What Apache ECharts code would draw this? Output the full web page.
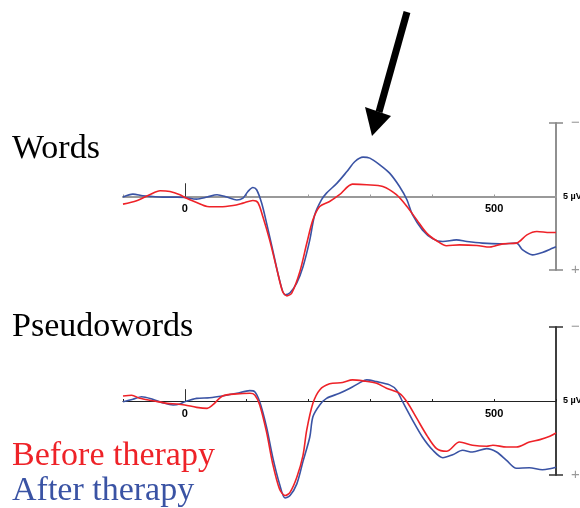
<!DOCTYPE html>
<html>
<head>
<meta charset="utf-8">
<script src="https://cdn.jsdelivr.net/npm/echarts@6/dist/echarts.min.js"></script>
<style>
  html, body { margin: 0; padding: 0; background: #fff; }
  #chart { width: 580px; height: 508px; }
</style>
</head>
<body>
<div id="chart"></div>
<script>
// ERP waveforms, [time ms, amplitude µV] (negative plotted up)
var wordsBefore = [
  [-100, 0.52], [-78, 0.29], [-57, -0.12], [-40, -0.39], [-24, -0.34], [-8, -0.12], [0, 0.07],
  [19, 0.41], [36, 0.68], [57, 0.70], [78, 0.61], [94, 0.45], [110, 0.27], [118, 0.41],
  [126, 1.36], [137, 2.95], [149, 4.99], [158, 6.46], [165, 6.76], [173, 6.55], [186, 5.1],
  [197, 3.2], [207, 1.59], [218, 0.68], [234, 0.34], [250, -0.12], [271, -0.84], [294, -0.80],
  [320, -0.68], [342, -0.12], [359, 0.68], [375, 1.59], [391, 2.49], [407, 3.01], [423, 3.35],
  [444, 3.29], [472, 3.33], [493, 3.44], [514, 3.22], [536, 3.17], [553, 2.61], [569, 2.38],
  [590, 2.45], [600, 2.45]
];
var wordsAfter = [
  [-100, 0.04], [-84, -0.16], [-68, -0.05], [-52, 0], [-36, 0.04], [-13, 0.04], [0, 0.07],
  [19, 0.18], [36, 0.04], [52, -0.12], [68, 0.04], [84, 0.24], [94, 0.11], [102, -0.34],
  [110, -0.61], [116, -0.46], [124, 0.43], [132, 1.79], [142, 3.63], [153, 5.67], [162, 6.69],
  [170, 6.55], [181, 5.87], [191, 4.78], [202, 2.95], [210, 1.24], [221, 0.22], [229, -0.23],
  [246, -0.91], [262, -1.70], [275, -2.38], [288, -2.68], [299, -2.61], [315, -2.16],
  [331, -1.59], [347, -0.68], [359, 0.22], [368, 1.24], [384, 2.27], [401, 2.88], [417, 3.06],
  [439, 2.95], [456, 3.06], [481, 3.17], [509, 3.22], [536, 3.17], [546, 3.63], [562, 3.97],
  [578, 3.81], [595, 3.51], [600, 3.42]
];
var pseudoBefore = [
  [-100, -0.34], [-86, -0.39], [-73, -0.18], [-52, -0.02], [-29, 0.16], [-13, 0.20], [0, 0.27],
  [19, 0.43], [36, 0.50], [45, 0.27], [61, -0.34], [84, -0.48], [105, -0.52], [113, -0.41],
  [121, 0.27], [132, 2.09], [142, 4.24], [153, 5.94], [162, 6.39], [170, 6.17], [181, 5.15],
  [191, 3.67], [197, 1.97], [207, 0.16], [218, -0.75], [234, -1.16], [255, -1.25], [271, -1.43],
  [288, -1.36], [310, -1.20], [326, -0.86], [347, -0.52], [359, 0.05], [375, 1.18], [391, 2.31],
  [407, 3.22], [423, 3.40], [444, 2.77], [465, 2.99], [488, 3.06], [498, 2.99], [520, 3.11],
  [536, 3.11], [557, 2.77], [574, 2.61], [590, 2.38], [600, 2.16]
];
var pseudoAfter = [
  [-100, 0.05], [-84, -0.12], [-70, -0.29], [-52, -0.12], [-36, 0.12], [-19, 0.27], [-8, 0.20],
  [0, 0.05], [19, -0.18], [40, -0.22], [61, -0.34], [84, -0.52], [105, -0.70], [113, -0.63],
  [121, 0.05], [132, 1.75], [142, 3.79], [153, 5.60], [162, 6.55], [170, 6.39], [181, 5.60],
  [191, 4.08], [202, 2.43], [207, 1.07], [218, 0.27], [229, -0.18], [250, -0.52], [267, -0.86],
  [283, -1.24], [294, -1.43], [310, -1.31], [331, -1.09], [342, -0.75], [352, 0.05], [368, 1.29],
  [384, 2.43], [401, 3.33], [417, 3.83], [433, 3.63], [449, 3.33], [465, 3.45], [488, 3.22],
  [504, 3.45], [520, 4.01], [536, 4.54], [557, 4.51], [578, 4.65], [590, 4.58], [600, 4.47]
];
var labeledTimes = [0, 500];
var scaleTicks = [-5, 5];

var RED = '#ee2228';
var BLUE = '#3a53a4';

var chart = echarts.init(document.getElementById('chart'), null, { renderer: 'canvas' });

// hidden x axis of the full-height panel (carries the waveforms)
function dataXAxis(idx) {
  return { gridIndex: idx, type: 'value', min: -100, max: 600, show: false };
}

// visible time axis, drawn at the bottom of the upper half-grid = 0 µV line
function timeAxis(idx, color, width) {
  return {
    gridIndex: idx, type: 'value', min: -100, max: 600, interval: 100, position: 'bottom',
    axisLine: { onZero: false, lineStyle: { color: color, width: width } },
    axisTick: { inside: true, length: 2, lineStyle: { color: color, width: 1 } },
    axisLabel: {
      formatter: function (v) { return labeledTimes.indexOf(v) >= 0 ? String(v) : ''; },
      fontFamily: 'Liberation Sans', fontWeight: 'bold', fontSize: 11, color: '#000', margin: 7
    },
    splitLine: { show: false }
  };
}

function scaleAxis(idx, color, inside) {
  return {
    gridIndex: idx, type: 'value', position: 'right', inverse: true,
    min: -5, max: 5, interval: 5,
    axisLine: { show: true, onZero: false, lineStyle: { color: color, width: 1.5 } },
    axisTick: { show: true, inside: inside, customValues: scaleTicks, length: 7,
      lineStyle: { color: color, width: 1.5 } },
    axisLabel: {
      show: !inside, margin: 7,
      formatter: function (v) {
        if (v === -5) return '{sign|\u2212}';
        if (v === 5) return '{sign|+}';
        return '{unit|5 \u00b5V}';
      },
      rich: {
        sign: { fontFamily: 'Liberation Sans', fontSize: 15, color: '#999', padding: [0, 0, 0, 8] },
        unit: { fontFamily: 'Liberation Sans', fontSize: 9, fontWeight: 'bold', color: '#000' }
      }
    },
    splitLine: { show: false }
  };
}

function halfAxis(idx) {
  return { gridIndex: idx, type: 'value', inverse: true, min: -5, max: 0, show: false };
}

function wave(name, data, color, xi, yi, onsetLen) {
  var s = {
    name: name, type: 'line', data: data, xAxisIndex: xi, yAxisIndex: yi,
    smooth: 0.3, showSymbol: false, clip: false, silent: true,
    lineStyle: { color: color, width: 1.6 }
  };
  if (onsetLen) {
    s.markLine = {
      silent: true, symbol: ['none', 'none'], label: { show: false },
      lineStyle: { color: '#333', width: 1, type: 'solid' },
      data: [[{ coord: [0, 0] }, { coord: [0, -onsetLen] }]]
    };
  }
  return s;
}

function panelGrid(top, height) {
  return { left: 123, right: 24, top: top, height: height, outerBoundsMode: 'none', containLabel: false };
}

chart.setOption({
  animation: false,
  backgroundColor: '#fff',
  grid: [panelGrid(123, 147), panelGrid(123, 73.5), panelGrid(327, 148), panelGrid(327, 74)],
  xAxis: [dataXAxis(0), timeAxis(1, '#999', 2), dataXAxis(2), timeAxis(3, '#222', 1.2)],
  yAxis: [
    scaleAxis(0, '#888', false), scaleAxis(0, '#888', true), halfAxis(1),
    scaleAxis(2, '#333', false), scaleAxis(2, '#333', true), halfAxis(3)
  ],
  series: [
    wave('After therapy', wordsAfter, BLUE, 0, 0, 0.9),
    wave('Before therapy', wordsBefore, RED, 0, 0),
    wave('After therapy', pseudoAfter, BLUE, 2, 3, 0.8),
    wave('Before therapy', pseudoBefore, RED, 2, 3)
  ],
  graphic: [
    { type: 'text', x: 12, y: 149, style: { text: 'Words', fill: '#000',
      font: '34px "Liberation Serif"', verticalAlign: 'middle' } },
    { type: 'text', x: 12, y: 327, style: { text: 'Pseudowords', fill: '#000',
      font: '34px "Liberation Serif"', verticalAlign: 'middle' } },
    { type: 'text', x: 12, y: 456, style: { text: 'Before therapy', fill: RED,
      font: '34px "Liberation Serif"', verticalAlign: 'middle' } },
    { type: 'text', x: 12, y: 491, style: { text: 'After therapy', fill: BLUE,
      font: '34px "Liberation Serif"', verticalAlign: 'middle' } },
    // arrow pointing at the late positive peak
    { type: 'line', shape: { x1: 407, y1: 12, x2: 379, y2: 112 },
      style: { stroke: '#000', lineWidth: 7 } },
    { type: 'polygon', shape: { points: [[365, 107], [391, 116], [372, 136]] },
      style: { fill: '#000' } }
  ]
});
</script>
</body>
</html>
